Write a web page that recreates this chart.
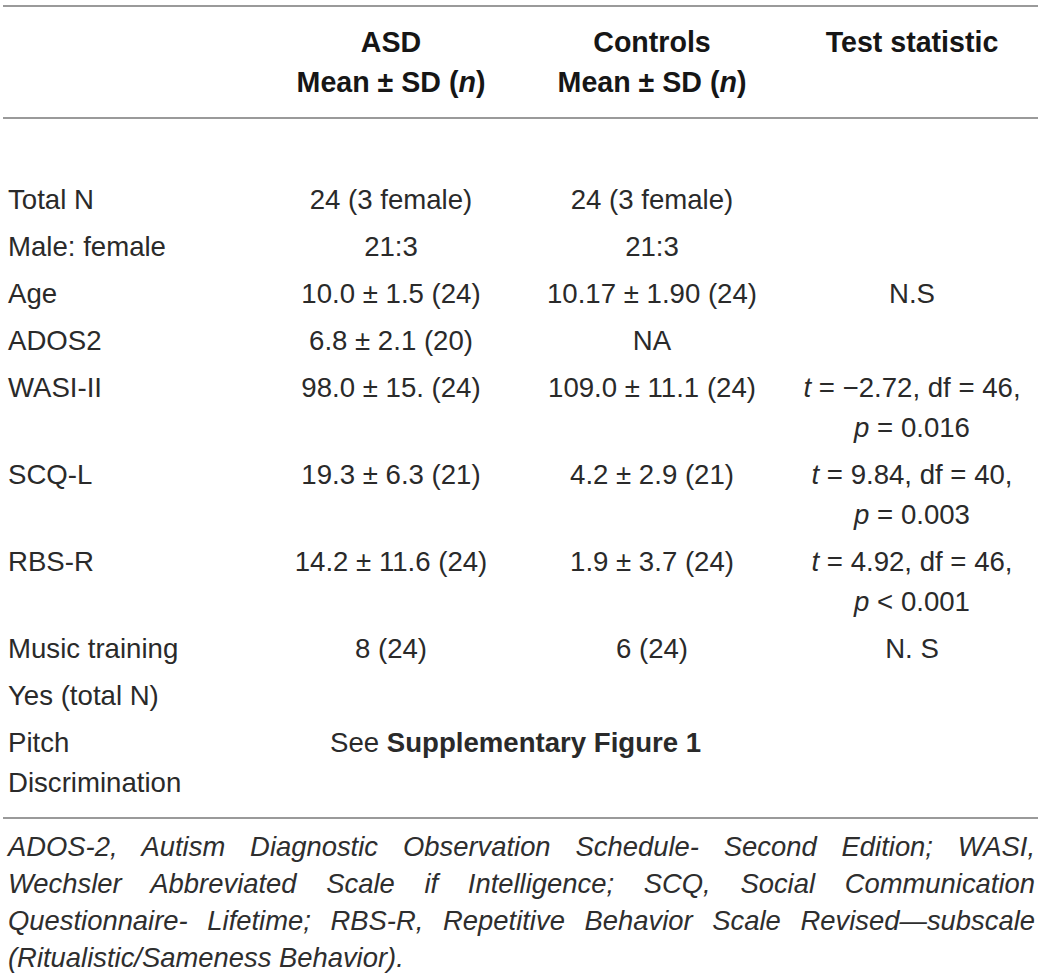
<!DOCTYPE html>
<html>
<head>
<meta charset="utf-8">
<script src="https://cdn.jsdelivr.net/npm/chart.js@4.4.1/dist/chart.umd.min.js"></script>
<style>
  html, body { margin: 0; padding: 0; background: #fff; }
  #page {
    position: relative;
    width: 1042px;
    height: 979px;
    font-family: "Liberation Sans", Arial, sans-serif;
    color: #2a2a2a;
    overflow: hidden;
  }
  .rule { position: absolute; left: 3px; width: 1035px; height: 2px; background: #9a9a9a; }
  .cell { position: absolute; white-space: nowrap; font-size: 27.6px; line-height: 40px; height: 40px; }
  .head { font-weight: bold; font-size: 28.6px; color: #161616; }
  .center { transform: translateX(-50%); }
  .note {
    position: absolute; left: 8px; width: 1027px;
    font-size: 27.4px; font-style: italic; line-height: 37px; height: 37px;
    white-space: nowrap; text-align: justify; text-align-last: justify; color: #2e2e2e;
  }
  .note.last { text-align-last: left; }
</style>
</head>
<body>
<div id="page"></div>
<script>
// table content
const headers = [
  ["ASD", "Mean ± SD (<i>n</i>)"],
  ["Controls", "Mean ± SD (<i>n</i>)"],
  ["Test statistic"]
];

const rowLabels = [
  ["Total N"], ["Male: female"], ["Age"], ["ADOS2"], ["WASI-II"],
  ["SCQ-L"], ["RBS-R"], ["Music training"], ["Yes (total N)"],
  ["Pitch", "Discrimination"]
];

const asdValues = [
  "24 (3 female)", "21:3", "10.0 ± 1.5 (24)", "6.8 ± 2.1 (20)", "98.0 ± 15. (24)",
  "19.3 ± 6.3 (21)", "14.2 ± 11.6 (24)", "8 (24)", "", ""
];

const controlValues = [
  "24 (3 female)", "21:3", "10.17 ± 1.90 (24)", "NA", "109.0 ± 11.1 (24)",
  "4.2 ± 2.9 (21)", "1.9 ± 3.7 (24)", "6 (24)", "", ""
];

const testStats = [
  [], [], ["N.S"], [],
  ["<i>t</i> = −2.72, df = 46,", "<i>p</i> = 0.016"],
  ["<i>t</i> = 9.84, df = 40,", "<i>p</i> = 0.003"],
  ["<i>t</i> = 4.92, df = 46,", "<i>p</i> &lt; 0.001"],
  ["N. S"], [], []
];

// spanning note in the last row
const spanRow = 9;
const spanText = "See <b>Supplementary Figure 1</b>";

const footnoteLines = [
  "ADOS-2, Autism Diagnostic Observation Schedule- Second Edition; WASI,",
  "Wechsler Abbreviated Scale if Intelligence; SCQ, Social Communication",
  "Questionnaire- Lifetime; RBS-R, Repetitive Behavior Scale Revised—subscale",
  "(Ritualistic/Sameness Behavior)."
];

// layout
const page = document.getElementById('page');
const colX = [391, 652, 912];
const labelX = 8;
const lineH = 40;
const rowGap = 47;

function addRule(y) {
  const d = document.createElement('div');
  d.className = 'rule';
  d.style.top = y + 'px';
  page.appendChild(d);
}

function addCell(html, x, yMid, cls) {
  const d = document.createElement('div');
  d.className = 'cell ' + (cls || '');
  d.innerHTML = html;
  d.style.left = x + 'px';
  d.style.top = (yMid - lineH / 2) + 'px';
  page.appendChild(d);
}

addRule(5);
addRule(117);

headers.forEach((lines, c) => {
  lines.forEach((t, i) => addCell(t, colX[c], 42 + i * 40, 'head center'));
});

let y = 200;
rowLabels.forEach((lines, r) => {
  lines.forEach((t, i) => addCell(t, labelX, y + i * lineH));
  if (asdValues[r]) addCell(asdValues[r], colX[0], y, 'center');
  if (controlValues[r]) addCell(controlValues[r], colX[1], y, 'center');
  testStats[r].forEach((t, i) => addCell(t, colX[2], y + i * lineH, 'center'));
  if (r === spanRow) addCell(spanText, 330, y);
  const n = Math.max(lines.length, testStats[r].length);
  y += (n - 1) * lineH + rowGap;
});

addRule(817);

footnoteLines.forEach((t, i) => {
  const d = document.createElement('div');
  d.className = 'note' + (i === footnoteLines.length - 1 ? ' last' : '');
  d.textContent = t;
  d.style.top = (846 - 18 + i * 37) + 'px';
  page.appendChild(d);
});
</script>
</body>
</html>
